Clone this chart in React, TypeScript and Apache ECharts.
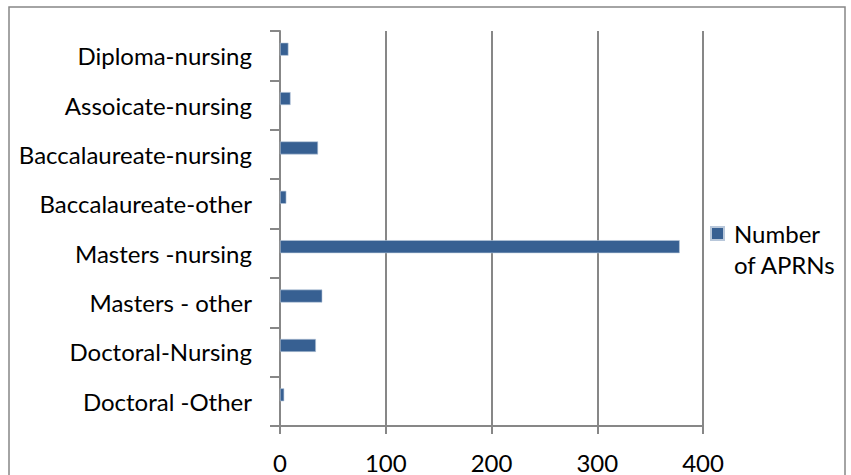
import React, { useEffect, useRef } from "react";
import * as echarts from "echarts";

const categories = [
  "Diploma-nursing",
  "Assoicate-nursing",
  "Baccalaureate-nursing",
  "Baccalaureate-other",
  "Masters -nursing",
  "Masters - other",
  "Doctoral-Nursing",
  "Doctoral -Other",
];
const values = [8, 10, 36, 6, 378, 40, 34, 4];
const xMin = 0;
const xMax = 400;
const xStep = 100;
const seriesName = "Number of APRNs";
const legendLines = ["Number", "of APRNs"];

const FONT = "Lato";
const GRAY = "#878787";

export default function App() {
  const ref = useRef<HTMLDivElement>(null);
  useEffect(() => {
    if (!ref.current) return;
    const chart = echarts.init(ref.current, undefined, { renderer: "svg" });
    chart.setOption({
      animation: false,
      backgroundColor: "#ffffff",
      textStyle: { fontFamily: FONT },
      graphic: [
        {
          type: "rect",
          shape: { x: 9, y: 7, width: 836, height: 520 },
          style: { fill: "none", stroke: GRAY, lineWidth: 1.5 },
          silent: true,
        },
      ],
      grid: { left: 280, top: 31, right: 148, bottom: 49, containLabel: false },
      legend: {
        data: [seriesName],
        left: 710,
        top: 187,
        padding: 0,
        itemWidth: 13,
        itemHeight: 13,
        icon: "rect",
        formatter: () => "\n" + legendLines.join("\n"),
        textStyle: {
          fontFamily: FONT,
          fontSize: 24,
          color: "#000",
          lineHeight: 31,
          padding: [0, 0, 0, 5],
        },
      },
      xAxis: {
        type: "value",
        min: xMin,
        max: xMax,
        interval: xStep,
        axisLine: { show: true, lineStyle: { color: GRAY, width: 2 } },
        axisTick: { show: true, inside: false, length: 8, lineStyle: { color: GRAY, width: 2 } },
        splitLine: { show: true, lineStyle: { color: GRAY, width: 2 } },
        axisLabel: { fontFamily: FONT, fontSize: 24, color: "#000", margin: 24 },
      },
      yAxis: {
        type: "category",
        data: categories,
        inverse: true,
        axisLine: { show: true, lineStyle: { color: GRAY, width: 2 } },
        axisTick: { show: true, inside: false, length: 10, alignWithLabel: false, lineStyle: { color: GRAY, width: 2 } },
        splitLine: { show: false },
        axisLabel: { fontFamily: FONT, fontSize: 24, color: "#000", margin: 28 },
      },
      series: [
        {
          name: seriesName,
          type: "bar",
          data: values,
          barWidth: 13,
          barGap: "0%",
          itemStyle: { color: "#376092", borderColor: "#b8c7da", borderWidth: 0.6 },
        },
        {
          name: "blank",
          type: "bar",
          data: categories.map(() => null),
          barWidth: 13,
          barGap: "0%",
        },
      ],
    });
    return () => chart.dispose();
  }, []);
  return (
    <div
      ref={ref}
      style={{ position: "absolute", left: 0, top: 0, width: 851, height: 475 }}
    />
  );
}
